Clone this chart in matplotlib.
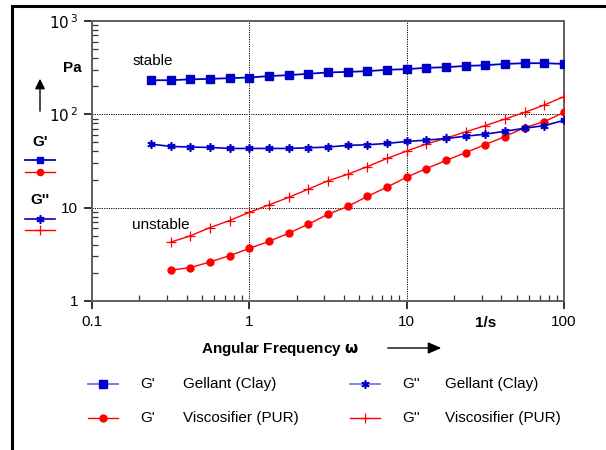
import numpy as np
import matplotlib
matplotlib.use("Agg")
import matplotlib.pyplot as plt
from matplotlib.lines import Line2D
from matplotlib.patches import FancyArrowPatch
from matplotlib.ticker import LogLocator, FixedLocator, FixedFormatter, NullFormatter

plt.rcParams['font.family'] = ['Liberation Sans', 'DejaVu Sans']

# Angular frequency (1/s): eight points per decade
omega_gellant = [0.237, 0.316, 0.422, 0.562, 0.750, 1.0, 1.33, 1.78, 2.37, 3.16,
                 4.22, 5.62, 7.50, 10.0, 13.3, 17.8, 23.7, 31.6, 42.2, 56.2, 75.0, 100.0]
omega_visc = [0.316, 0.422, 0.562, 0.750, 1.0, 1.33, 1.78, 2.37, 3.16,
              4.22, 5.62, 7.50, 10.0, 13.3, 17.8, 23.7, 31.6, 42.2, 56.2, 75.0, 100.0]

# Moduli (Pa)
g1_gellant = [232, 232, 237, 240, 244, 248, 257, 263, 272, 281, 285,
              290, 300, 305, 315, 320, 330, 336, 347, 353, 353, 347]
g2_gellant = [48.0, 45.3, 44.6, 44.2, 43.1, 43.1, 43.1, 43.1, 43.8, 44.6, 46.5,
              47.2, 48.8, 51.2, 52.9, 55.1, 58.3, 61.3, 65.9, 71.0, 75.7, 86.3]
g1_visc = [2.14, 2.28, 2.62, 3.06, 3.66, 4.35, 5.33, 6.65, 8.50, 10.3, 13.2,
           16.6, 21.2, 26.2, 32.1, 38.8, 47.5, 57.8, 72.1, 83.5, 105]
g2_visc = [4.27, 4.99, 6.12, 7.28, 8.91, 10.7, 12.9, 15.8, 19.4, 22.8, 27.5,
           33.7, 40.4, 48.0, 55.6, 64.9, 75.7, 89.1, 105, 126, 155]

x_ticks = [0.1, 1, 10, 100]
x_labels = ["0.1", "1", "10", "100"]
y_ticks = [1, 10, 100, 1000]
y_labels = ["1", "10", r"$10^{\,2}$", r"$10^{\,3}$"]

BLUE = "#0000c8"
RED = "#ff0000"
ASTER = (6, 2, 0)

W, H = 606, 450


def fx(px):
    return px / W


def fy(py):
    return 1 - py / H


fig = plt.figure(figsize=(W / 100, H / 100), dpi=100)
ax = fig.add_axes([fx(92), fy(301), (564 - 92) / W, (301 - 21) / H])

styles = {
    "g1_gellant": dict(color=BLUE, marker="s", ms=5.2, lw=1.3),
    "g2_gellant": dict(color=BLUE, marker=ASTER, ms=6, mew=1.2, lw=1.2),
    "g1_visc": dict(color=RED, marker="o", ms=5, lw=1.0),
    "g2_visc": dict(color=RED, marker="+", ms=6.5, mew=0.9, lw=1.0),
}

ax.plot(omega_gellant, g1_gellant, **styles["g1_gellant"], zorder=4)
ax.plot(omega_gellant, g2_gellant, **styles["g2_gellant"], zorder=4)
ax.plot(omega_visc, g1_visc, **styles["g1_visc"], zorder=3)
ax.plot(omega_visc, g2_visc, **styles["g2_visc"], zorder=3)

ax.set_xscale("log")
ax.set_yscale("log")
ax.set_xlim(0.1, 100)
ax.set_ylim(1, 1000)

ax.xaxis.set_major_locator(FixedLocator(x_ticks))
ax.xaxis.set_major_formatter(FixedFormatter(x_labels))
ax.yaxis.set_major_locator(FixedLocator(y_ticks))
ax.yaxis.set_major_formatter(FixedFormatter(y_labels))
ax.xaxis.set_minor_locator(LogLocator(base=10, subs=np.arange(2, 10)))
ax.yaxis.set_minor_locator(LogLocator(base=10, subs=np.arange(2, 10)))
ax.xaxis.set_minor_formatter(NullFormatter())
ax.yaxis.set_minor_formatter(NullFormatter())

ax.tick_params(which="major", direction="out", length=6, width=1.4, color="#333333",
               labelsize=11, pad=4)
ax.tick_params(which="minor", direction="in", length=4, width=0.9, color="#333333")

for sp in ax.spines.values():
    sp.set_color("#606060")
    sp.set_linewidth(1.4)

ax.grid(True, which="major", color="black", linestyle=(0, (1.2, 1.2)), linewidth=0.7)
ax.set_axisbelow(True)

# annotations inside the plot
ax.text(0.18, 370, "stable", fontsize=11, ha="left", va="center")
ax.text(0.18, 6.6, "unstable", fontsize=11, ha="left", va="center")

# axis titles and arrows
fig.text(fx(72), fy(68), "Pa", fontsize=11, fontweight="bold", ha="center", va="center")
fig.add_artist(FancyArrowPatch(
    (fx(40), fy(114)), (fx(40), fy(76)), transform=fig.transFigure,
    arrowstyle="-|>,head_length=6,head_width=3", color="black", lw=1.0))
fig.text(fx(280), fy(349), r"Angular Frequency $\mathbf{\omega}$", fontsize=11,
         fontweight="bold", ha="center", va="center")
fig.add_artist(FancyArrowPatch(
    (fx(385), fy(348)), (fx(444), fy(348)), transform=fig.transFigure,
    arrowstyle="-|>,head_length=8,head_width=3.5", color="black", lw=1.0))
fig.text(fx(486), fy(323), "1/s", fontsize=11, fontweight="bold", ha="center", va="center")

# left-side key
fig.text(fx(40), fy(142), "G'", fontsize=11, fontweight="bold", ha="center", va="center")
fig.text(fx(40), fy(200), "G''", fontsize=11, fontweight="bold", ha="center", va="center")
left_key = [(160, "g1_gellant"), (172, "g1_visc"), (219, "g2_gellant"), (230, "g2_visc")]
for ypx, key in left_key:
    st = dict(styles[key])
    if key.startswith("g1"):
        st["ms"] = st["ms"] * 0.9
    fig.add_artist(Line2D([fx(25), fx(40), fx(55)], [fy(ypx)] * 3,
                          transform=fig.transFigure, markevery=[1], **st))

# bottom key
bottom_key = [
    (88, 384, "g1_gellant", "G'", "Gellant (Clay)"),
    (350, 384, "g2_gellant", "G''", "Gellant (Clay)"),
    (88, 418, "g1_visc", "G'", "Viscosifier (PUR)"),
    (350, 418, "g2_visc", "G''", "Viscosifier (PUR)"),
]
for xpx, ypx, key, sym, name in bottom_key:
    st = dict(styles[key])
    if key.endswith("gellant"):
        st["color"] = "#7070e0"
        mcol = BLUE
    else:
        mcol = RED
    fig.add_artist(Line2D([fx(xpx), fx(xpx + 15), fx(xpx + 30)], [fy(ypx)] * 3,
                          transform=fig.transFigure, markevery=[1],
                          markerfacecolor=mcol, markeredgecolor=mcol, **st))
    fig.text(fx(xpx + 52), fy(ypx), sym, fontsize=11, ha="left", va="center")
    fig.text(fx(xpx + 95), fy(ypx), name, fontsize=11, ha="left", va="center")

# frame lines along the top and left edges
fig.add_artist(Line2D([fx(12), 1.0], [fy(5.5), fy(5.5)], transform=fig.transFigure,
                      color="black", lw=2.2))
fig.add_artist(Line2D([fx(12), fx(12)], [0, fy(5.5)], transform=fig.transFigure,
                      color="black", lw=2.2))

fig.savefig("out.png", dpi=100)
